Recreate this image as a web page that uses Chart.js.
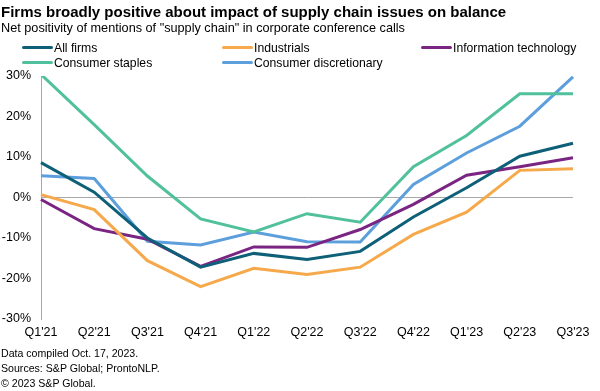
<!DOCTYPE html>
<html>
<head>
<meta charset="utf-8">
<script src="https://cdn.jsdelivr.net/npm/chart.js@4/dist/chart.umd.min.js"></script>
<style>
  body { margin: 0; background: #fff; font-family: "Liberation Sans", Arial, sans-serif; }
  #wrap { position: relative; width: 600px; height: 391px; overflow: hidden; }
  canvas { position: absolute; left: 0; top: 0; }
  .txt { position: absolute; white-space: nowrap; color: #000; }
  #title { left: 1px; top: 3px; font-size: 15px; font-weight: bold; }
  #subtitle { left: 1px; top: 21px; font-size: 12.7px; }
  .foot { left: 1px; font-size: 10.6px; }
  .leg { position: absolute; font-size: 12.2px; white-space: nowrap; }
  .leg span.sw { display: inline-block; width: 31px; height: 3px; border-radius: 2px; vertical-align: middle; margin-right: 1px; position: relative; top: -1px; }
</style>
</head>
<body>
<div id="wrap">
  <canvas id="chart1" width="600" height="391"></canvas>
  <div id="title" class="txt">Firms broadly positive about impact of supply chain issues on balance</div>
  <div id="subtitle" class="txt">Net positivity of mentions of "supply chain" in corporate conference calls</div>
  <div id="legend"></div>
  <div class="txt foot" style="top:347px">Data compiled Oct. 17, 2023.</div>
  <div class="txt foot" style="top:362px">Sources: S&amp;P Global; ProntoNLP.</div>
  <div class="txt foot" style="top:377px">© 2023 S&amp;P Global.</div>
</div>
<script>
  const labels = ["Q1'21", "Q2'21", "Q3'21", "Q4'21", "Q1'22", "Q2'22", "Q3'22", "Q4'22", "Q1'23", "Q2'23", "Q3'23"];
  const yTicks = [30, 20, 10, 0, -10, -20, -30];

  const allFirms = [8.6, 1.3, -10.0, -17.2, -13.8, -15.3, -13.3, -4.8, 2.4, 10.2, 13.4];
  const industrials = [0.7, -3.0, -15.6, -22.0, -17.5, -19.0, -17.2, -9.1, -3.6, 6.7, 7.1];
  const infoTech = [-0.5, -7.7, -10.3, -17.0, -12.2, -12.3, -7.9, -1.7, 5.5, 7.6, 9.8];
  const consumerStaples = [30.4, 18.0, 5.3, -5.3, -8.5, -4.0, -6.1, 7.6, 15.3, 25.6, 25.6];
  const consumerDiscretionary = [5.4, 4.7, -10.8, -11.7, -8.5, -10.9, -11.0, 3.2, 11.0, 17.6, 29.8];

  const seriesNames = ['All firms', 'Industrials', 'Information technology', 'Consumer staples', 'Consumer discretionary'];
  const seriesData = [allFirms, industrials, infoTech, consumerStaples, consumerDiscretionary];
  const seriesColors = ['#0e6078', '#f5a94b', '#7b2582', '#50c19c', '#5c9fdc'];

  // legend built by hand, 3 columns like the original
  const legendPos = [[22, 41], [222, 41], [421, 41], [22, 56], [222, 56]];
  const legendEl = document.getElementById('legend');
  seriesNames.forEach((name, i) => {
    const d = document.createElement('div');
    d.className = 'leg';
    d.style.left = legendPos[i][0] + 'px';
    d.style.top = legendPos[i][1] + 'px';
    d.innerHTML = '<span class="sw" style="background:' + seriesColors[i] + '"></span>' + name;
    legendEl.appendChild(d);
  });

  const datasets = seriesNames.map((name, i) => ({
    label: name,
    data: seriesData[i],
    borderColor: seriesColors[i],
    backgroundColor: seriesColors[i],
    borderWidth: 3,
    pointRadius: 0,
    tension: 0
  }));

  const config = {
    type: 'line',
    data: { labels: labels, datasets: datasets },
    options: {
      responsive: false,
      animation: false,
      layout: { padding: { top: 76, right: 27, left: 0, bottom: 0 } },
      plugins: { legend: { display: false }, tooltip: { enabled: false } },
      scales: {
        x: {
          offset: false,
          grid: { display: false, drawTicks: false },
          border: { display: false },
          ticks: { color: '#000', font: { family: 'Liberation Sans', size: 12.5 }, maxRotation: 0, autoSkip: false, padding: 6 },
          afterFit: s => { s.height = 72; }
        },
        y: {
          min: -30,
          max: 30,
          afterBuildTicks: s => { s.ticks = yTicks.map(v => ({ value: v })); },
          grid: {
            color: c => (c.tick && c.tick.value === 0) ? '#a8a8a8' : 'rgba(0,0,0,0)',
            drawTicks: false,
            lineWidth: 1
          },
          border: { display: true, color: '#a8a8a8', width: 1 },
          ticks: { color: '#000', font: { family: 'Liberation Sans', size: 12.5 }, padding: 10, callback: v => v + '%' },
          afterFit: s => { s.width = 41; }
        }
      }
    }
  };

  new Chart(document.getElementById('chart1'), config);
</script>
</body>
</html>
